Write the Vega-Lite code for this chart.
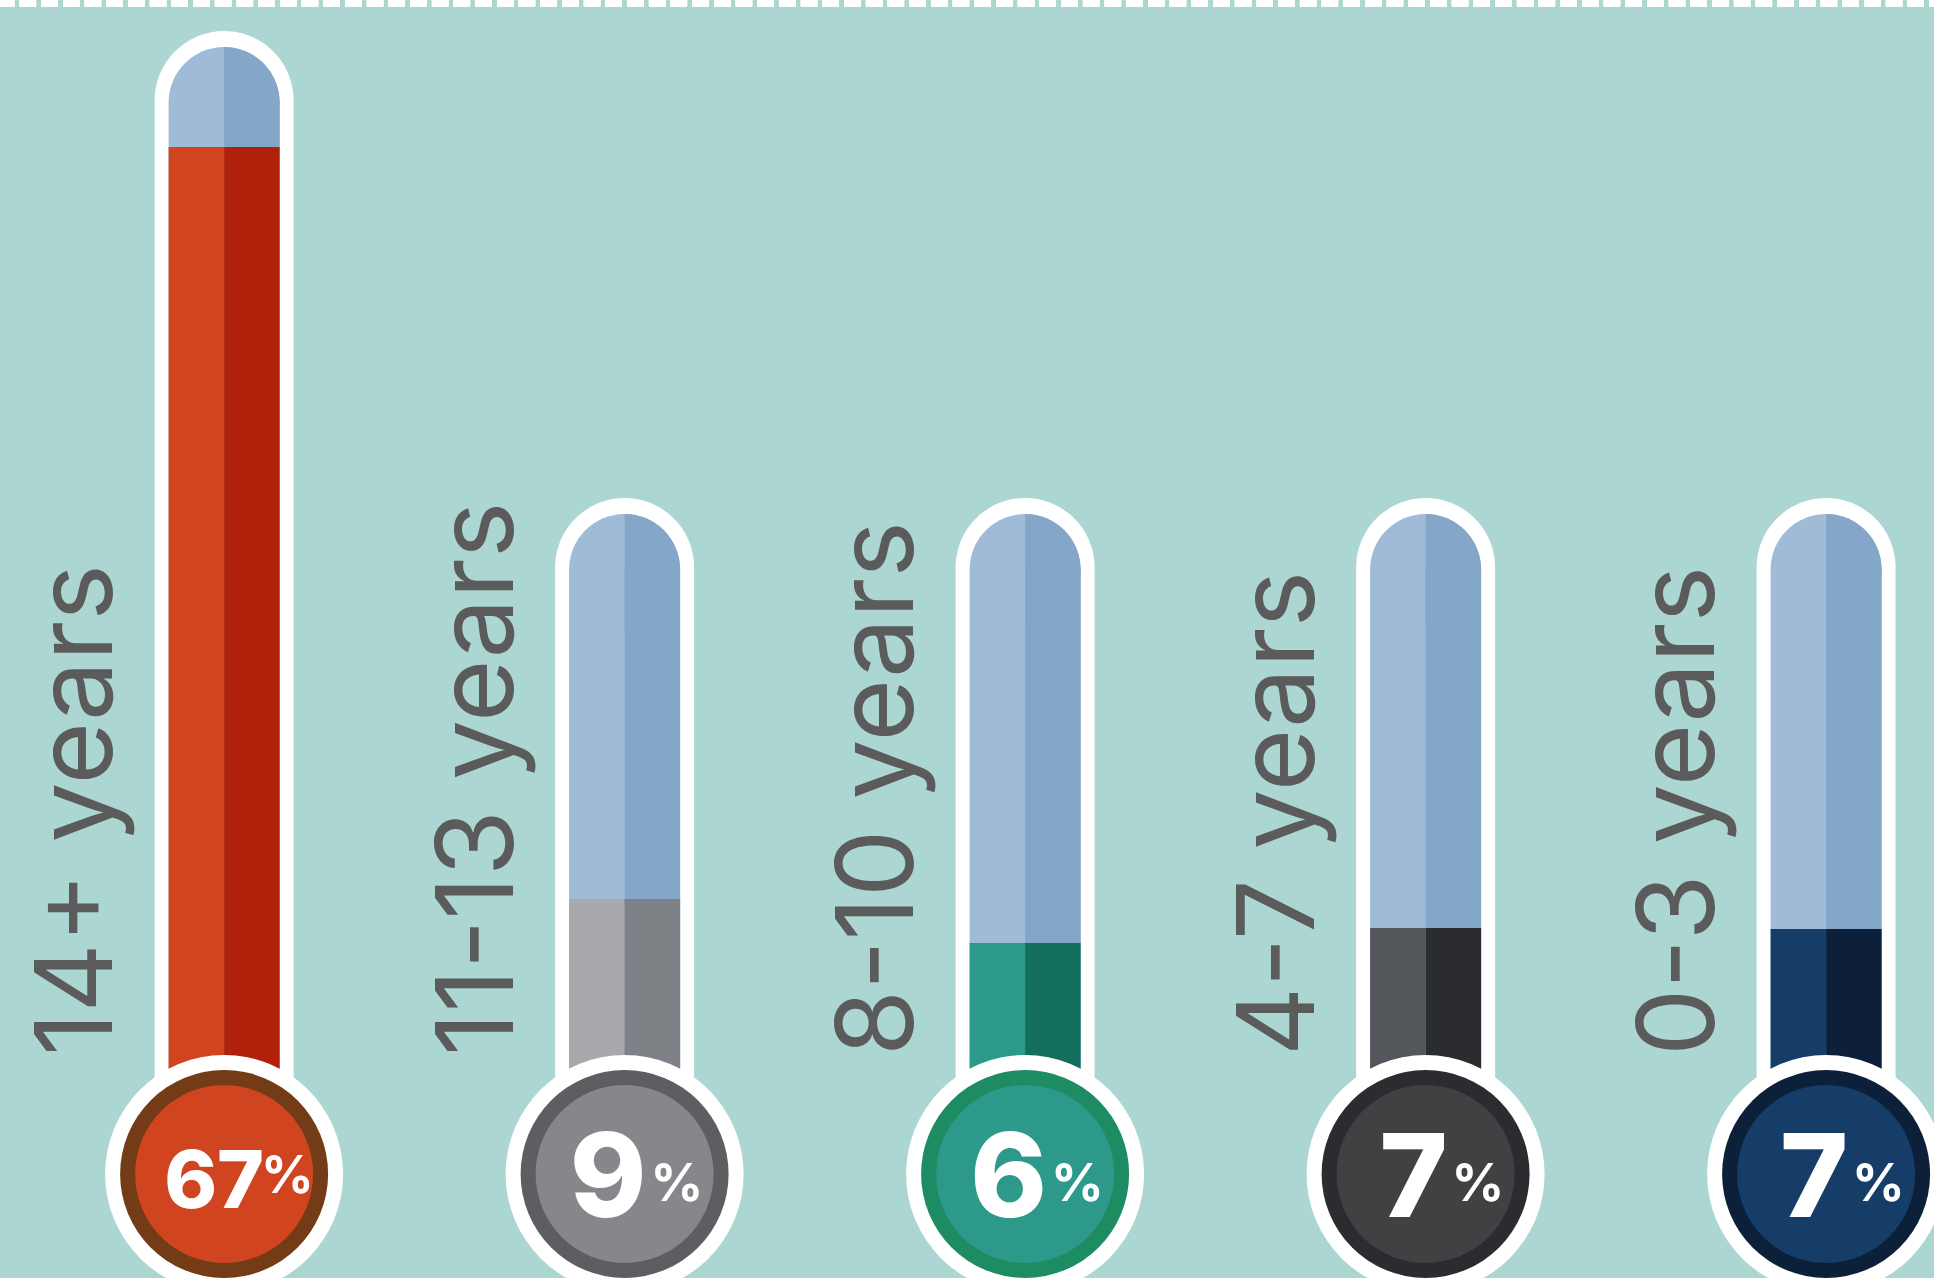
{
  "$schema": "https://vega.github.io/schema/vega-lite/v6.json",
  "width": 1934,
  "height": 1278,
  "autosize": "none",
  "padding": 0,
  "background": "#acd6d1",
  "config": {"view": {"stroke": null}},
  "data": {
    "values": [
      {"cat": "14+ years", "pct": 67, "top": 1231, "level": 1131},
      {"cat": "11-13 years", "pct": 9, "top": 764, "level": 379},
      {"cat": "8-10 years", "pct": 6, "top": 764, "level": 335},
      {"cat": "4-7 years", "pct": 7, "top": 764, "level": 350},
      {"cat": "0-3 years", "pct": 7, "top": 764, "level": 349}
    ]
  },
  "encoding": {
    "x": {"field": "cat", "type": "nominal", "sort": null, "axis": null,
      "scale": {"type": "point", "padding": 0.4145, "align": 0.675}}
  },
  "resolve": {"scale": {"color": "independent"}},
  "layer": [
    {
      "mark": {"type": "rule", "color": "white", "strokeWidth": 7, "strokeDash": [16.5, 5.2], "strokeDashOffset": 11.7},
      "encoding": {"x": null, "y": {"datum": 1275, "type": "quantitative", "scale": {"domain": [0, 1278], "nice": false, "zero": false}, "axis": null}}
    },
    {
      "mark": {"type": "bar", "color": "white", "width": 139, "cornerRadiusTopLeft": 69.5, "cornerRadiusTopRight": 69.5, "yOffset": -16},
      "encoding": {"y": {"field": "top", "type": "quantitative", "scale": {"domain": [0, 1278], "nice": false, "zero": false}, "axis": null}, "y2": {"datum": 104}}
    },
    {
      "mark": {"type": "bar", "color": "#a0bbd7", "width": 111, "cornerRadiusTopLeft": 55.5, "cornerRadiusTopRight": 55.5},
      "encoding": {"y": {"field": "top", "type": "quantitative"}, "y2": {"datum": 104}}
    },
    {
      "mark": {"type": "arc", "color": "#84a6c9", "theta": 0, "theta2": 3.14159, "outerRadius": 55.5, "innerRadius": 0, "yOffset": 55.5},
      "encoding": {"y": {"field": "top", "type": "quantitative"}}
    },
    {
      "mark": {"type": "bar", "color": "#84a6c9", "width": 55.5, "xOffset": 27.75, "yOffset": 55},
      "encoding": {"y": {"field": "top", "type": "quantitative"}, "y2": {"datum": 104}}
    },
    {
      "mark": {"type": "bar", "width": 55.5, "xOffset": -27.75},
      "encoding": {
        "y": {"field": "level", "type": "quantitative"}, "y2": {"datum": 104},
        "color": {"field": "cat", "type": "nominal", "legend": null,
          "scale": {"domain": ["14+ years", "11-13 years", "8-10 years", "4-7 years", "0-3 years"],
            "range": ["#d0451f", "#a8a9ac", "#2c998a", "#53565b", "#153d67"]}}
      }
    },
    {
      "mark": {"type": "bar", "width": 55.5, "xOffset": 27.75},
      "encoding": {
        "y": {"field": "level", "type": "quantitative"}, "y2": {"datum": 104},
        "color": {"field": "cat", "type": "nominal", "legend": null,
          "scale": {"domain": ["14+ years", "11-13 years", "8-10 years", "4-7 years", "0-3 years"],
            "range": ["#b1200b", "#7e8185", "#146e5d", "#2b2c2f", "#0c2139"]}}
      }
    },
    {
      "mark": {"type": "circle", "color": "white", "size": 56644, "opacity": 1},
      "encoding": {"y": {"datum": 104}}
    },
    {
      "mark": {"type": "circle", "size": 43264, "opacity": 1},
      "encoding": {
        "y": {"datum": 104},
        "color": {"field": "cat", "type": "nominal", "legend": null,
          "scale": {"domain": ["14+ years", "11-13 years", "8-10 years", "4-7 years", "0-3 years"],
            "range": ["#733c17", "#5d5e61", "#1e8c62", "#2b2c2f", "#0c2139"]}}
      }
    },
    {
      "mark": {"type": "circle", "size": 31684, "opacity": 1},
      "encoding": {
        "y": {"datum": 104},
        "color": {"field": "cat", "type": "nominal", "legend": null,
          "scale": {"domain": ["14+ years", "11-13 years", "8-10 years", "4-7 years", "0-3 years"],
            "range": ["#d0451f", "#86878a", "#2c998a", "#414143", "#153d67"]}}
      }
    },
    {
      "transform": [{"filter": "datum.pct >= 10"}],
      "mark": {"type": "text", "color": "white", "font": "Inter", "fontWeight": 800, "fontSize": 80, "align": "right", "baseline": "alphabetic", "xOffset": 40, "yOffset": 34},
      "encoding": {"y": {"datum": 104}, "text": {"field": "pct", "type": "quantitative"}}
    },
    {
      "transform": [{"filter": "datum.pct >= 10"}],
      "mark": {"type": "text", "color": "white", "font": "Inter", "fontWeight": 700, "fontSize": 52, "align": "left", "baseline": "alphabetic", "xOffset": 37, "yOffset": 19},
      "encoding": {"y": {"datum": 104}, "text": {"value": "%"}}
    },
    {
      "transform": [{"filter": "datum.pct < 10"}],
      "mark": {"type": "text", "color": "white", "font": "Inter", "fontWeight": 800, "fontSize": 116, "align": "right", "baseline": "alphabetic", "xOffset": 22, "yOffset": 43},
      "encoding": {"y": {"datum": 104}, "text": {"field": "pct", "type": "quantitative"}}
    },
    {
      "transform": [{"filter": "datum.pct < 10"}],
      "mark": {"type": "text", "color": "white", "font": "Inter", "fontWeight": 700, "fontSize": 52, "align": "left", "baseline": "alphabetic", "xOffset": 26, "yOffset": 27},
      "encoding": {"y": {"datum": 104}, "text": {"value": "%"}}
    },
    {
      "mark": {"type": "text", "color": "#5b5b5b", "font": "Inter", "fontWeight": 400, "fontSize": 107, "angle": 270, "align": "left", "baseline": "alphabetic", "xOffset": -112},
      "encoding": {"y": {"datum": 222}, "text": {"field": "cat", "type": "nominal"}}
    }
  ]
}
